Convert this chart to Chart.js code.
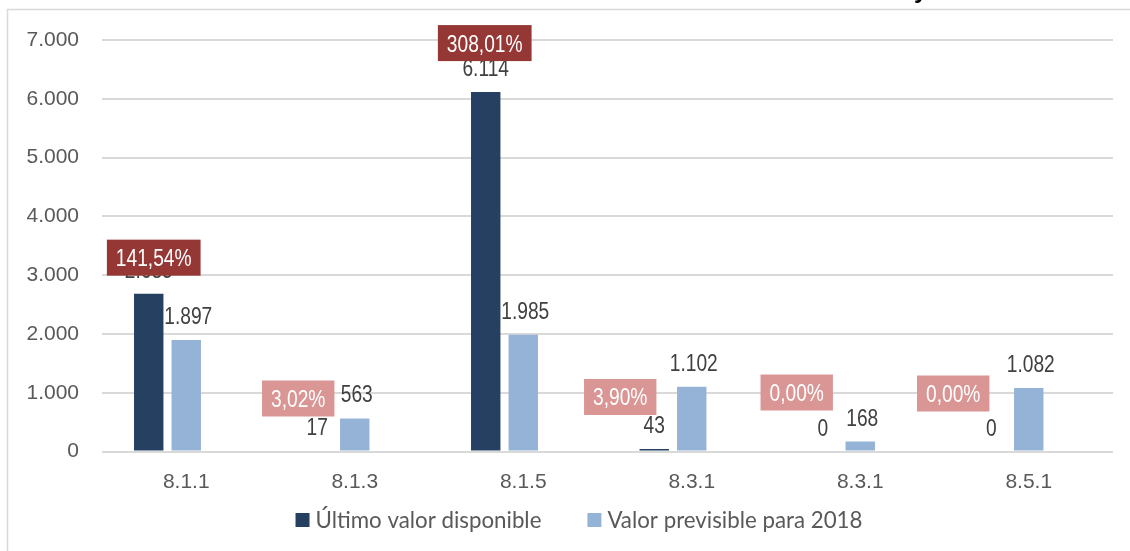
<!DOCTYPE html>
<html lang="es">
<head>
<meta charset="UTF-8">
<title>Último valor disponible y valor previsible para 2018</title>
<style>
  html, body { margin: 0; padding: 0; background: #fff; }
  #grafico { display: block; }
</style>
</head>
<body>
<canvas id="grafico" width="1130" height="551"></canvas>

<script src="https://cdn.jsdelivr.net/npm/chart.js@4.4.1/dist/chart.umd.min.js"></script>
<script>
  // datos
  const categorias = ["8.1.1", "8.1.3", "8.1.5", "8.3.1", "8.3.1", "8.5.1"];
  const ultimoValor = [2685, 17, 6114, 43, 0, 0];
  const valorPrevisible = [1897, 563, 1985, 1102, 168, 1082];
  const porcentaje = [141.54, 3.02, 308.01, 3.90, 0.00, 0.00];
  const nombresSeries = ["Último valor disponible", "Valor previsible para 2018"];
  const coloresSeries = ["#254061", "#95b3d7"];
  const ticksY = [0, 1000, 2000, 3000, 4000, 5000, 6000, 7000];

  // las cajas de % estan colocadas a mano en el original (desplazamiento respecto a la barra oscura)
  const cajaDx = [5, -19, -1, -34, -26, -38];
  const cajaDy = [18, 34, 31, 34, 41, 40];

  const miles = v => String(v).replace(/\B(?=(\d{3})+(?!\d))/g, ".");
  const pct = v => v.toFixed(2).replace(".", ",") + "%";

  // fuente estrecha para las etiquetas (si no existe, se estrecha la normal)
  const sonda = document.createElement("canvas").getContext("2d");
  function anchoCon(f) { sonda.font = f; return sonda.measureText("0123456789,%").width; }
  const hayNarrow = anchoCon('40px "Liberation Sans Narrow", monospace') !== anchoCon("40px monospace");
  const TAM = 23.4;

  function anchoEstrecho(ctx, txt) {
    if (hayNarrow) { ctx.font = TAM + 'px "Liberation Sans Narrow"'; return ctx.measureText(txt).width; }
    ctx.font = TAM + 'px "Liberation Sans"';
    return ctx.measureText(txt).width * 0.82;
  }

  function textoEstrecho(ctx, txt, x, y) {
    ctx.save();
    ctx.textAlign = "center";
    ctx.textBaseline = "alphabetic";
    if (hayNarrow) {
      ctx.font = TAM + 'px "Liberation Sans Narrow"';
      ctx.fillText(txt, x, y);
    } else {
      ctx.translate(x, y);
      ctx.scale(0.82, 1);
      ctx.font = TAM + 'px "Liberation Sans"';
      ctx.fillText(txt, 0, 0);
    }
    ctx.restore();
  }

  const extras = {
    id: "extras",
    beforeDraw(chart) {
      const ctx = chart.ctx;
      ctx.save();
      // marco del grafico
      ctx.strokeStyle = "#d9d9d9";
      ctx.lineWidth = 1.5;
      ctx.beginPath();
      ctx.moveTo(7.5, 551);
      ctx.lineTo(7.5, 9.5);
      ctx.lineTo(1130, 9.5);
      ctx.stroke();
      // resto del titulo cortado arriba
      ctx.fillStyle = "#000";
      ctx.font = 'bold 24px "Liberation Sans"';
      ctx.textAlign = "left";
      ctx.textBaseline = "alphabetic";
      ctx.fillText("y", 914, -2);
      ctx.restore();
    },
    afterDatasetsDraw(chart) {
      const ctx = chart.ctx;
      const oscuras = chart.getDatasetMeta(0).data;
      const claras = chart.getDatasetMeta(1).data;

      // etiquetas de valor
      ctx.fillStyle = "#404040";
      oscuras.forEach((b, i) => textoEstrecho(ctx, miles(ultimoValor[i]), b.x, b.y - 16));
      claras.forEach((b, i) => textoEstrecho(ctx, miles(valorPrevisible[i]), b.x + 2, b.y - 16));

      // cajas de porcentaje
      oscuras.forEach((b, i) => {
        const txt = pct(porcentaje[i]);
        const w = anchoEstrecho(ctx, txt) + 18;
        const h = 36;
        const cx = b.x + cajaDx[i];
        const fondo = b.y - cajaDy[i];
        ctx.fillStyle = porcentaje[i] > 100 ? "#953735" : "#d99694";
        ctx.fillRect(cx - w / 2, fondo - h, w, h);
        ctx.fillStyle = "#ffffff";
        textoEstrecho(ctx, txt, cx, fondo - h + 26.5);
      });
    },
    afterDraw(chart) {
      // leyenda abajo, como en el Excel
      const ctx = chart.ctx;
      ctx.save();
      ctx.font = '22.3px Lato';
      ctx.textBaseline = "middle";
      ctx.textAlign = "left";
      const caja = 14, hueco = 6, sep = 46, cy = 520;
      const anchos = nombresSeries.map(t => ctx.measureText(t).width);
      const total = anchos.reduce((a, w) => a + caja + hueco + w, 0) + sep * (anchos.length - 1);
      let x = 579 - total / 2;
      nombresSeries.forEach((t, i) => {
        ctx.fillStyle = coloresSeries[i];
        ctx.fillRect(x, cy - caja / 2, caja, caja);
        ctx.fillStyle = "#595959";
        ctx.fillText(t, x + caja + hueco, cy + 1);
        x += caja + hueco + anchos[i] + sep;
      });
      ctx.restore();
    }
  };

  new Chart(document.getElementById("grafico"), {
    type: "bar",
    data: {
      labels: categorias,
      datasets: [
        {
          label: nombresSeries[0],
          data: ultimoValor,
          backgroundColor: coloresSeries[0],
          barPercentage: 0.784,
          categoryPercentage: 0.668
        },
        {
          label: nombresSeries[1],
          data: valorPrevisible,
          backgroundColor: coloresSeries[1],
          barPercentage: 0.784,
          categoryPercentage: 0.668
        },
        {
          label: "%",
          data: porcentaje,
          backgroundColor: "rgba(0,0,0,0)",
          barPercentage: 0.784,
          categoryPercentage: 0.668
        }
      ]
    },
    options: {
      responsive: false,
      devicePixelRatio: 1,
      animation: false,
      layout: { padding: { top: 40, right: 17, bottom: 56, left: 0 } },
      plugins: {
        tooltip: { enabled: false },
        legend: { display: false }
      },
      scales: {
        x: {
          grid: { display: false, drawTicks: false },
          border: { display: false },
          afterFit: s => { s.height = 43.5; },
          ticks: {
            padding: 18,
            color: "#595959",
            font: { family: "'Liberation Sans'", size: 21 }
          }
        },
        y: {
          min: 0,
          max: 7000,
          afterBuildTicks: s => { s.ticks = ticksY.map(v => ({ value: v })); },
          afterFit: s => { s.width = 102; },
          grid: { color: "#d9d9d9", lineWidth: 2, drawTicks: false },
          border: { display: false },
          ticks: {
            padding: 23,
            color: "#595959",
            font: { family: "'Liberation Sans'", size: 21 },
            callback: v => miles(v)
          }
        }
      }
    },
    plugins: [extras]
  });
</script>
</body>
</html>
